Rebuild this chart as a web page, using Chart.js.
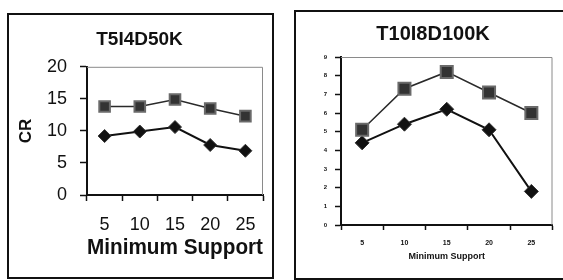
<!DOCTYPE html>
<html><head><meta charset="utf-8">
<script src="https://cdn.jsdelivr.net/npm/chart.js@4.4.1/dist/chart.umd.min.js"></script>
<style>
html,body{margin:0;padding:0;background:#fff;width:563px;height:280px;overflow:hidden;position:relative;font-family:"Liberation Sans",Arial,sans-serif}
.frame{position:absolute;border:2px solid #111;box-sizing:border-box}
canvas{position:absolute;filter:blur(0.4px)}
</style></head><body>
<div class="frame" style="left:7px;top:13px;width:267px;height:266px"></div>
<div class="frame" style="left:294px;top:10px;width:280px;height:270px"></div>
<canvas id="c1" width="280" height="280" style="left:0;top:0"></canvas>
<canvas id="c2" width="280" height="280" style="left:283px;top:0"></canvas>
<script>
const categories = ["5", "10", "15", "20", "25"];
const leftTitle = "T5I4D50K";
const rightTitle = "T10I8D100K";
const xTitle = "Minimum Support";
const yTitleLeft = "CR";
const leftUpper = [13.8, 13.8, 14.9, 13.5, 12.3];
const leftLower = [9.2, 9.9, 10.6, 7.8, 6.9];
const rightUpper = [5.1, 7.3, 8.2, 7.1, 6.0];
const rightLower = [4.4, 5.4, 6.2, 5.1, 1.8];

const frameBox = {
  id: 'frameBox',
  beforeDatasetsDraw(chart) {
    const a = chart.chartArea, ctx = chart.ctx;
    ctx.save();
    ctx.strokeStyle = '#8a8a8a';
    ctx.lineWidth = 1;
    ctx.beginPath();
    ctx.moveTo(a.left, a.top + 0.5); ctx.lineTo(a.right - 0.5, a.top + 0.5); ctx.lineTo(a.right - 0.5, a.bottom);
    ctx.stroke();
    ctx.restore();
  }
};

function makeChart(id, cfg) {
  const upperDs = {
    data: cfg.upper, borderColor: '#2a2a2a', borderWidth: 1.5,
    pointStyle: 'rect', pointRadius: cfg.sq, pointBackgroundColor: '#333',
    pointBorderColor: '#6a6a6a', pointBorderWidth: 2, tension: 0
  };
  const lowerDs = {
    data: cfg.lower, borderColor: '#111', borderWidth: 2,
    pointStyle: 'rectRot', pointRadius: cfg.dm, pointBackgroundColor: '#111',
    pointBorderColor: '#333', pointBorderWidth: 1, tension: 0
  };
  return new Chart(document.getElementById(id), {
    type: 'line',
    data: { labels: categories, datasets: [upperDs, lowerDs] },
    plugins: [frameBox],
    options: {
      responsive: false, animation: false,
      layout: { padding: cfg.pad },
      plugins: {
        legend: { display: false }, tooltip: { enabled: false },
        title: { display: true, text: cfg.title, color: '#111',
          font: { family: '"Liberation Sans", Arial', size: cfg.titleSize, weight: 'bold', lineHeight: 1.2 },
          padding: cfg.titlePad }
      },
      scales: {
        x: {
          offset: true,
          grid: { offset: true, drawOnChartArea: false, tickLength: cfg.xTick, color: '#111', tickWidth: 1.5 },
          border: { color: '#111', width: 2 },
          ticks: { color: '#111', padding: cfg.xTickPad, maxRotation: 0,
            font: { family: '"Liberation Sans", Arial', size: cfg.xTickSize, weight: cfg.xTickWeight, lineHeight: 1.2 } },
          title: { display: true, text: xTitle, color: '#111', padding: { top: 0, bottom: cfg.xTitlePad },
            font: { family: '"Liberation Sans", Arial', size: cfg.xTitleSize, weight: 'bold', lineHeight: 1.2 } },
          afterFit(s) { s.height = cfg.xH; }
        },
        y: {
          min: 0, max: cfg.ymax,
          grid: { drawOnChartArea: false, tickLength: cfg.yTick, color: '#111', tickWidth: 1.5 },
          border: { color: '#111', width: 2 },
          ticks: { stepSize: cfg.step, color: '#111', padding: cfg.yTickPad,
            font: { family: '"Liberation Sans", Arial', size: cfg.yTickSize, weight: cfg.yTickWeight, lineHeight: 1.2 } },
          title: { display: !!cfg.yTitle, text: cfg.yTitle || '', color: '#111', padding: { top: 0, bottom: 0 },
            font: { family: '"Liberation Sans", Arial', size: 17, weight: 'bold', lineHeight: 1.2 } },
          afterFit(s) { s.width = cfg.yW; }
        }
      }
    }
  });
}

makeChart('c1', {
  upper: leftUpper, lower: leftLower, title: leftTitle, yTitle: yTitleLeft,
  pad: { left: 16, right: 17, top: 0, bottom: 10 },
  titleSize: 19, titlePad: { top: 28, bottom: 16 },
  xH: 75, xTick: 6, xTickPad: 13, xTickSize: 18, xTickWeight: 'normal',
  xTitleSize: 22, xTitlePad: 9,
  yW: 71, yTick: 7, yTickPad: 13, yTickSize: 18, yTickWeight: 'normal',
  ymax: 20, step: 5, sq: 7.5, dm: 6.5
});
makeChart('c2', {
  upper: rightUpper, lower: rightLower, title: rightTitle, yTitle: null,
  pad: { left: 28, right: 8, top: 0, bottom: 10 },
  titleSize: 20, titlePad: { top: 22, bottom: 11 },
  xH: 45, xTick: 5, xTickPad: 9, xTickSize: 7, xTickWeight: 'bold',
  xTitleSize: 9, xTitlePad: 8,
  yW: 30, yTick: 6, yTickPad: 8, yTickSize: 6, yTickWeight: 'bold',
  ymax: 9, step: 1, sq: 8.5, dm: 7
});
</script>
</body></html>
